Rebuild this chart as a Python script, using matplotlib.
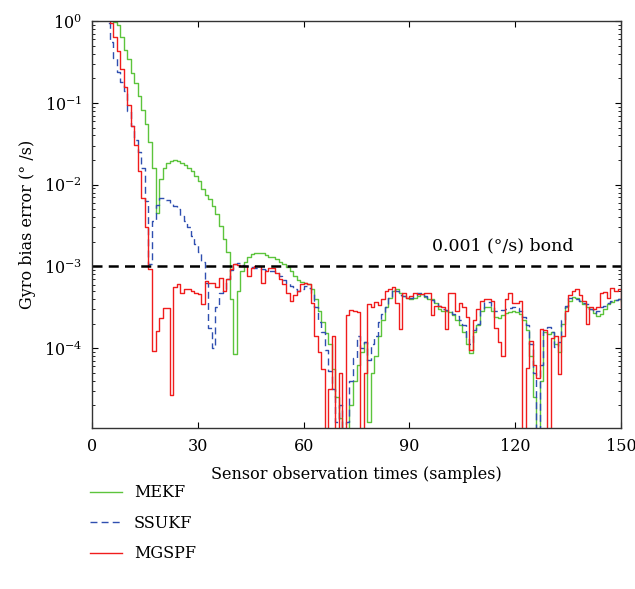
import numpy as np
import matplotlib
matplotlib.use("Agg")
import matplotlib.pyplot as plt
from matplotlib.ticker import LogLocator, NullFormatter

plt.rcParams['font.family'] = ['DejaVu Serif']
plt.rcParams['mathtext.fontset'] = 'dejavuserif'

# sample index 0..150, values given as log10 of the bias error (deg/s)
samples = np.arange(151)

mekf_log = [
    0.5, 0.4, 0.3, 0.2, 0.12, 0.05, -0.01, -0.05, -0.19, -0.35,          # 0-9
    -0.46, -0.63, -0.76, -0.91, -1.09, -1.26, -1.48, -1.79, -2.35, -1.93,  # 10-19
    -1.79, -1.73, -1.71, -1.70, -1.71, -1.74, -1.76, -1.79, -1.83, -1.89,  # 20-29
    -1.96, -2.05, -2.12, -2.18, -2.26, -2.36, -2.50, -2.66, -2.82, -3.4,   # 30-39
    -4.07, -3.3, -3.05, -2.95, -2.89, -2.85, -2.83, -2.83, -2.84, -2.86,   # 40-49
    -2.88, -2.89, -2.91, -2.94, -2.97, -3.01, -3.05, -3.12, -3.17, -3.19,  # 50-59
    -3.20, -3.22, -3.28, -3.40, -3.55, -3.68, -3.82, -3.95, -4.25, -4.6,   # 60-69
    -4.85, -5.3, -5.3, -4.7, -4.4, -4.2, -4.05, -3.92, -4.9, -4.3,        # 70-79
    -4.1, -3.85, -3.65, -3.5, -3.38, -3.3, -3.27, -3.32, -3.36, -3.38,    # 80-89
    -3.40, -3.38, -3.36, -3.34, -3.37, -3.40, -3.40, -3.45, -3.52, -3.55,  # 90-99
    -3.55, -3.56, -3.60, -3.66, -3.72, -3.80, -3.95, -4.06, -3.80, -3.72,  # 100-109
    -3.55, -3.50, -3.50, -3.55, -3.62, -3.63, -3.60, -3.57, -3.56, -3.55,  # 110-119
    -3.56, -3.58, -3.65, -3.78, -4.1, -4.6, -5.3, -4.4, -3.80, -3.83,     # 120-129
    -3.80, -3.95, -4.05, -3.70, -3.50, -3.42, -3.37, -3.38, -3.42, -3.46,  # 130-139
    -3.50, -3.52, -3.57, -3.61, -3.58, -3.52, -3.46, -3.43, -3.41, -3.40,  # 140-149
    -3.42,
]

ssukf_log = [
    0.4, 0.3, 0.2, 0.1, -0.02, -0.25, -0.45, -0.62, -0.74, -0.85,
    -1.1, -1.28, -1.45, -1.6, -1.8, -2.2, -2.97, -2.45, -2.25, -2.16,
    -2.16, -2.19, -2.22, -2.26, -2.30, -2.38, -2.45, -2.52, -2.63, -2.72,
    -2.82, -2.95, -3.2, -3.75, -4.0, -3.5, -3.33, -3.28, -3.15, -3.04,
    -2.97, -2.96, -2.98, -3.0, -3.0, -3.01, -3.02, -3.03, -3.03, -3.04,
    -3.05, -3.06, -3.08, -3.12, -3.17, -3.20, -3.24, -3.28, -3.30, -3.27,
    -3.24, -3.26, -3.33, -3.50, -3.68, -3.80, -4.02, -4.28, -4.50, -4.9,
    -4.7, -5.3, -4.9, -4.4, -4.12, -3.85, -4.0, -3.93, -4.15, -3.95,
    -3.85, -3.68, -3.58, -3.50, -3.38, -3.28, -3.30, -3.35, -3.36, -3.38,
    -3.38, -3.36, -3.33, -3.32, -3.36, -3.40, -3.41, -3.44, -3.49, -3.52,
    -3.53, -3.55, -3.58, -3.61, -3.65, -3.72, -3.88, -3.95, -3.78, -3.70,
    -3.52, -3.44, -3.43, -3.48, -3.54, -3.55, -3.53, -3.52, -3.51, -3.50,
    -3.51, -3.55, -3.62, -3.72, -3.95, -4.3, -5.3, -4.2, -3.76, -3.74,
    -3.80, -3.98, -3.92, -3.65, -3.48, -3.39, -3.38, -3.40, -3.42, -3.45,
    -3.46, -3.52, -3.57, -3.55, -3.50, -3.48, -3.45, -3.42, -3.41, -3.40,
    -3.40,
]

mgspf_log = [
    0.3, 0.25, 0.2, 0.15, 0.1, -0.02, -0.19, -0.36, -0.58, -0.81,
    -1.03, -1.28, -1.52, -1.83, -2.16, -2.52, -3.03, -4.04, -3.79, -3.63,
    -3.51, -3.51, -4.57, -3.25, -3.22, -3.32, -3.27, -3.28, -3.30, -3.32,
    -3.34, -3.46, -3.18, -3.20, -3.20, -3.25, -3.14, -3.30, -3.15, -3.03,
    -2.97, -2.98, -3.00, -2.99, -3.12, -3.02, -3.00, -3.00, -3.20, -3.05,
    -3.02, -3.02, -3.08, -3.15, -3.22, -3.32, -3.42, -3.35, -3.30, -3.22,
    -3.20, -3.22, -3.45, -3.85, -4.05, -4.25, -5.3, -4.5, -3.85, -5.3,
    -4.3, -5.3, -3.6, -3.53, -3.55, -3.56, -5.3, -4.3, -3.46, -3.50,
    -3.44, -3.47, -3.40, -3.30, -3.28, -3.25, -3.45, -3.77, -3.32, -3.38,
    -3.36, -3.33, -3.34, -3.34, -3.33, -3.32, -3.60, -3.48, -3.48, -3.50,
    -3.77, -3.32, -3.32, -3.55, -3.45, -3.50, -3.62, -4.02, -3.65, -3.52,
    -3.42, -3.40, -3.40, -3.42, -3.75, -3.92, -4.10, -3.40, -3.33, -3.45,
    -3.45, -3.42, -5.3, -4.24, -3.91, -4.20, -4.36, -3.77, -3.78, -5.3,
    -3.88, -3.85, -4.32, -3.85, -3.55, -3.35, -3.30, -3.28, -3.35, -3.42,
    -3.71, -3.50, -3.52, -3.50, -3.32, -3.31, -3.38, -3.26, -3.30, -3.28,
    -3.50,
]

labels = ['MEKF', 'SSUKF', 'MGSPF']
bound = 1e-3

mekf = 10.0 ** np.array(mekf_log)
ssukf = 10.0 ** np.array(ssukf_log)
mgspf = 10.0 ** np.array(mgspf_log)

fs = 11.5

fig = plt.figure(figsize=(6.35, 5.89), dpi=100)
ax = fig.add_axes([0.145, 0.273, 0.833, 0.691])

ax.plot(samples, mekf, color='#5cc43c', lw=1.0, drawstyle='steps-post', label=labels[0])
ax.plot(samples, ssukf, color='#2f4fb0', lw=1.0, ls=(0, (5, 3)), drawstyle='steps-post', label=labels[1])
ax.plot(samples, mgspf, color='#f01c1c', lw=1.0, drawstyle='steps-post', label=labels[2])
ax.axhline(bound, color='black', lw=1.8, ls=(0, (4, 2.5)))
ax.text(96.5, 1.8e-3, '0.001 (°/s) bond', fontsize=12.5, ha='left', va='center')

ax.set_yscale('log')
ax.set_xlim(0, 150)
ax.set_ylim(1.05e-5, 1)
ax.set_xticks([0, 30, 60, 90, 120, 150])
ax.set_yticks([1e0, 1e-1, 1e-2, 1e-3, 1e-4])
ax.set_yticklabels([r'$10^{0}$', r'$10^{-1}$', r'$10^{-2}$', r'$10^{-3}$', r'$10^{-4}$'])
ax.yaxis.set_minor_locator(LogLocator(base=10, subs=np.arange(2, 10)))
ax.yaxis.set_minor_formatter(NullFormatter())
ax.tick_params(which='both', direction='in', top=True, right=True, labelsize=fs)
ax.tick_params(which='major', length=4, pad=7)
ax.tick_params(which='minor', length=2)
for s in ax.spines.values():
    s.set_color('#333333')
    s.set_linewidth(1.0)

ax.set_xlabel('Sensor observation times (samples)', fontsize=fs, labelpad=8)
ax.set_ylabel('Gyro bias error (° /s)', fontsize=fs, labelpad=6)

fig.legend(loc='upper left', bbox_to_anchor=(0.142, 0.178), frameon=False,
           fontsize=fs, handlelength=2.0, handletextpad=0.75, labelspacing=0.85,
           borderpad=0, borderaxespad=0)

fig.savefig('out.png', dpi=100)
